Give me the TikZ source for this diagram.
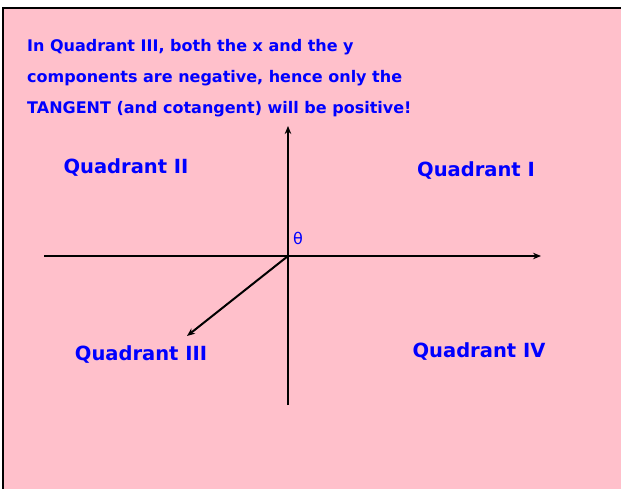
\documentclass[tikz,border=0pt]{standalone}
\usepackage{fontspec}
\setmainfont{DejaVu Sans}
\usepackage{tikz}
\usetikzlibrary{arrows.meta}
\definecolor{slidepink}{RGB}{255,192,203}
\definecolor{slideblue}{RGB}{0,0,255}

\begin{document}
\begin{tikzpicture}[
  x=1pt, y=-1pt,
  >={Stealth[length=8pt,width=6.5pt]},
  axis/.style={line width=2pt},
  quadlabel/.style={font=\bfseries\fontsize{19.5}{21}\selectfont,text=slideblue,inner sep=0pt}
]
\useasboundingbox (0,0) rectangle (621,488);

% background
\fill[white] (0,0) rectangle (621,488);
\draw[fill=slidepink,line width=2pt] (3,8) rectangle (630,500);

% top text
\node[anchor=base west,align=left,inner sep=0pt,text=slideblue,
  font=\bfseries\fontsize{16}{31}\selectfont] (intro) at (27,113)
  {In Quadrant III, both the x and the y\\
   components are negative, hence only the\\
   TANGENT (and cotangent) will be positive!};

% axes
\coordinate (origin) at (288,256);
\coordinate (ytop) at (288,126);
\coordinate (ybot) at (288,405);
\coordinate (xleft) at (44,256);
\coordinate (xright) at (541,256);
\coordinate (vtip) at (187,336);

\draw[axis,->] (ybot) -- (ytop);
\draw[axis,->] (xleft) -- (xright);
\draw[axis,->] (origin) -- (vtip);

\node[text=slideblue,font=\fontsize{16}{17}\selectfont,inner sep=0pt]
  (theta) at (298,238) {θ};

% quadrants
\node[quadlabel] (q2) at (126,168) {Quadrant II};
\node[quadlabel] (q1) at (476,171) {Quadrant I};
\node[quadlabel] (q3) at (141,355) {Quadrant III};
\node[quadlabel] (q4) at (479,352) {Quadrant IV};

\end{tikzpicture}
\end{document}
